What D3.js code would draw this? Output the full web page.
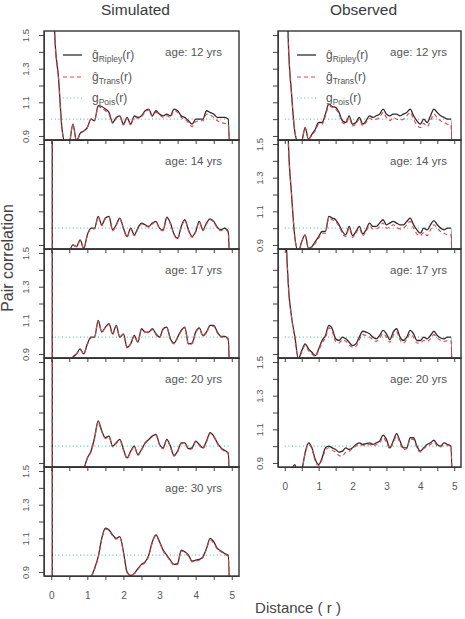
<!DOCTYPE html>
<html><head><meta charset="utf-8">
<script src="https://cdn.jsdelivr.net/npm/d3@7"></script>
<style>body{margin:0;background:#fff}svg{display:block}text{font-family:"Liberation Sans",Arial,sans-serif}</style>
</head><body>
<svg id="c" width="465" height="619"></svg>
<script>
// ---------- DATA ----------
const r = [0.01,0.03,0.1,0.2,0.3,0.4,0.5,0.6,0.7,0.8,0.9,1.0,
1.1,1.2,1.3,1.4,1.5,1.6,1.7,1.8,1.9,2.0,
2.1,2.2,2.3,2.4,2.5,2.6,2.7,2.8,2.9,3.0,
3.1,3.2,3.3,3.4,3.5,3.6,3.7,3.8,3.9,4.0,
4.1,4.2,4.3,4.4,4.5,4.6,4.7,4.8,4.9,5.0];

const simAges = [12, 14, 17, 20, 30];
const obsAges = [12, 14, 17, 20];
const yTicks = [0.9, 1.0, 1.1, 1.2, 1.3, 1.4, 1.5];
const yTickLabels = [0.9, 1.1, 1.3, 1.5];
const xTicks = [0, 0.5, 1, 1.5, 2, 2.5, 3, 3.5, 4, 4.5, 5];
const xTickLabels = [0, 1, 2, 3, 4, 5];
const poisR = [0, 4.95];
const poisG = [1, 1];
const legendLabels = [["Ripley", true], ["Trans", true], ["Pois", false]];

const sim12Ripley = [4,2.5,1.49,1.25,0.94,0.85,0.86,0.97,0.87,0.915,0.93,0.95,
1.0,0.99,1.08,1.075,1.06,1.04,0.98,1.01,1.02,0.97,
1.01,0.97,1.02,1.01,1.02,1.05,1.06,1.02,1.05,1.03,
1.02,1.03,1.02,1.06,1.05,1.02,1.01,0.99,0.97,1.0,
1.0,1.0,1.05,1.04,1.03,1.01,1.01,1.01,1.0,0];
const sim12Trans = [4,2.5,1.49,1.25,0.94,0.85,0.86,0.97,0.87,0.91,0.93,0.95,
1.0,0.99,1.075,1.065,1.05,1.03,0.975,1.005,1.015,0.965,
1.005,0.965,1.015,1.005,1.015,1.04,1.055,1.015,1.04,1.025,
1.01,1.02,1.01,1.05,1.04,1.01,1.0,0.98,0.955,0.985,
0.99,0.99,1.03,1.025,1.01,0.99,0.98,0.975,0.97,0];

const sim14Ripley = [30,0,0.5,0.6,0.7,0.75,0.85,0.9,0.89,0.93,0.88,0.96,
1.0,1.0,1.07,1.02,1.06,1.07,0.99,1.02,1.06,1.0,
0.95,1.0,0.96,1.0,1.03,1.02,1.01,1.03,1.04,1.0,
0.99,1.065,1.03,0.965,0.94,1.01,1.05,0.99,0.95,0.98,
1.04,0.99,1.03,1.055,1.04,1.005,0.99,1.0,0.98,0];
const sim14Trans = [30,0,0.5,0.6,0.7,0.75,0.85,0.9,0.89,0.925,0.88,0.955,
0.995,0.995,1.065,1.015,1.055,1.065,0.985,1.015,1.055,0.995,
0.945,0.995,0.955,0.995,1.025,1.015,1.005,1.025,1.035,0.995,
0.985,1.06,1.025,0.96,0.935,1.005,1.045,0.985,0.945,0.975,
1.035,0.985,1.025,1.05,1.035,1.0,0.985,0.995,0.975,0];

const sim17Ripley = [30,0,0.5,0.6,0.7,0.75,0.8,0.88,0.9,0.93,0.9,0.96,
1.0,1.0,1.1,1.03,1.06,1.08,1.02,1.07,1.0,1.02,
0.94,0.96,1.01,0.97,1.05,1.03,1.03,1.05,1.02,1.0,
1.05,1.06,0.99,0.965,1.0,1.04,1.06,0.96,0.965,1.03,
1.055,1.01,1.03,1.07,1.07,1.03,1.005,1.005,0.99,0];
const sim17Trans = [30,0,0.5,0.6,0.7,0.75,0.8,0.88,0.9,0.925,0.9,0.955,
0.995,1.0,1.095,1.03,1.055,1.075,1.015,1.065,1.0,1.015,
0.935,0.96,1.005,0.97,1.045,1.03,1.025,1.045,1.015,0.995,
1.045,1.055,0.985,0.96,0.995,1.035,1.055,0.955,0.96,1.025,
1.05,1.005,1.025,1.065,1.065,1.025,1.0,1.0,0.985,0];

const sim20Ripley = [30,0,0.5,0.6,0.65,0.7,0.72,0.75,0.78,0.8,0.86,0.93,
0.97,1.05,1.15,1.09,1.05,1.06,1.0,1.02,1.04,0.98,
0.93,0.97,1.0,0.95,0.98,1.02,1.04,1.06,1.07,1.01,
0.99,1.04,1.0,0.945,0.97,1.02,1.02,0.985,0.99,1.03,
1.01,0.99,1.03,1.08,1.06,1.02,0.99,0.975,0.96,0];
const sim20Trans = [30,0,0.5,0.6,0.65,0.7,0.72,0.75,0.78,0.8,0.86,0.925,
0.965,1.045,1.14,1.085,1.045,1.055,0.995,1.015,1.035,0.975,
0.925,0.965,0.995,0.945,0.975,1.015,1.035,1.055,1.065,1.005,
0.985,1.035,0.995,0.94,0.965,1.015,1.015,0.98,0.985,1.025,
1.005,0.985,1.025,1.075,1.055,1.015,0.985,0.97,0.955,0];

const sim30Ripley = [30,0,0.3,0.4,0.5,0.55,0.6,0.65,0.7,0.75,0.8,0.85,
0.87,0.92,0.99,1.1,1.16,1.15,1.12,1.1,1.11,1.02,
0.9,0.88,0.89,0.92,0.945,0.96,1.0,1.08,1.12,1.08,
1.03,1.0,0.97,0.945,0.95,1.03,1.02,1.0,0.965,0.97,
0.975,0.99,1.04,1.1,1.08,1.04,1.025,1.01,1.0,0];
const sim30Trans = [30,0,0.3,0.4,0.5,0.55,0.6,0.65,0.7,0.75,0.8,0.85,
0.87,0.915,0.985,1.095,1.155,1.145,1.115,1.095,1.105,1.015,
0.895,0.88,0.89,0.915,0.94,0.955,0.995,1.075,1.115,1.075,
1.025,0.995,0.965,0.94,0.945,1.025,1.015,0.995,0.96,0.965,
0.97,0.985,1.035,1.09,1.07,1.035,1.02,1.005,0.995,0];

const obs12Ripley = [4,2.5,1.49,1.15,0.92,0.86,0.87,0.95,0.88,0.91,0.94,0.98,
0.98,1.03,1.09,1.075,1.07,1.04,0.99,0.98,1.02,0.97,
0.98,1.01,0.97,0.99,1.02,1.01,1.02,1.03,1.06,1.03,
1.02,1.03,1.03,1.02,1.03,1.04,1.06,1.02,0.99,0.97,
1.0,0.98,1.02,1.06,1.04,1.02,1.01,1.0,1.0,0];
const obs12Trans = [4,2.5,1.49,1.15,0.92,0.86,0.87,0.95,0.88,0.905,0.93,0.97,
0.97,1.02,1.08,1.07,1.06,1.03,0.98,0.97,1.01,0.96,
0.97,1.0,0.96,0.98,1.005,0.995,1.0,1.01,1.04,1.01,
0.99,1.01,1.0,0.995,1.0,1.02,1.04,1.0,0.965,0.95,
0.975,0.955,0.99,1.03,1.01,0.99,0.98,0.97,0.965,0];

const obs14Ripley = [4,2.6,1.55,1.2,0.94,0.86,0.92,0.96,0.88,0.89,0.92,0.95,
0.98,0.98,1.07,1.06,1.05,1.02,0.98,0.96,1.01,0.955,
0.98,1.01,0.965,0.99,1.03,1.01,1.01,1.03,1.05,1.02,
1.03,1.04,1.03,1.02,1.02,1.04,1.06,1.02,0.99,0.97,
1.0,0.99,1.02,1.045,1.02,1.0,0.99,1.0,1.0,0];
const obs14Trans = [4,2.6,1.55,1.2,0.94,0.86,0.92,0.955,0.88,0.885,0.91,0.94,
0.97,0.97,1.06,1.05,1.04,1.01,0.97,0.95,1.0,0.945,
0.97,1.0,0.955,0.98,1.015,0.995,0.995,1.01,1.03,1.0,
1.005,1.02,1.005,0.995,1.0,1.02,1.04,1.0,0.965,0.955,
0.975,0.955,0.99,1.02,1.0,0.98,0.97,0.96,0.96,0];

const obs17Ripley = [4,1.7,1.33,1.12,1.0,0.87,0.92,0.96,0.93,0.91,0.89,0.93,
0.98,1.01,1.07,1.05,0.99,0.98,1.0,0.99,0.97,0.95,
0.96,1.0,1.035,1.03,1.02,1.0,0.99,1.01,1.04,1.02,
0.985,1.03,1.05,1.0,0.98,1.0,1.04,1.02,0.98,0.98,
1.0,0.99,1.01,1.035,1.01,0.995,0.99,1.0,1.0,0];
const obs17Trans = [4,1.7,1.33,1.12,0.99,0.87,0.91,0.95,0.92,0.9,0.885,0.92,
0.965,0.995,1.055,1.035,0.975,0.965,0.985,0.975,0.955,0.94,
0.945,0.985,1.015,1.01,1.0,0.985,0.975,0.995,1.02,1.0,
0.97,1.01,1.03,0.985,0.965,0.985,1.02,1.0,0.965,0.965,
0.98,0.975,0.99,1.015,0.995,0.98,0.975,0.98,0.98,0];

const obs20Ripley = [0,0,0.5,0.85,0.89,0.8,0.85,0.96,1.02,0.99,0.92,0.89,
0.93,0.99,1.0,0.99,0.98,0.965,0.97,0.99,0.98,0.99,
1.01,1.02,1.01,1.015,1.02,1.01,1.02,1.03,1.065,1.04,
0.99,1.03,1.075,1.03,0.99,0.99,1.05,1.05,1.0,0.97,
0.99,1.01,1.02,1.035,1.01,1.0,1.02,1.01,1.0,0];
const obs20Trans = [0,0,0.5,0.85,0.885,0.8,0.85,0.955,1.01,0.985,0.91,0.885,
0.92,0.975,0.99,0.975,0.965,0.945,0.94,0.965,0.97,0.985,
1.0,1.01,1.005,1.005,1.01,1.0,1.01,1.02,1.05,1.025,
0.985,1.02,1.06,1.02,0.98,0.985,1.04,1.04,0.99,0.965,
0.985,1.0,1.01,1.025,1.0,0.995,1.01,1.005,0.995,0];

const simRipley = [sim12Ripley, sim14Ripley, sim17Ripley, sim20Ripley, sim30Ripley];
const simTrans  = [sim12Trans, sim14Trans, sim17Trans, sim20Trans, sim30Trans];
const obsRipley = [obs12Ripley, obs14Ripley, obs17Ripley, obs20Ripley];
const obsTrans  = [obs12Trans, obs14Trans, obs17Trans, obs20Trans];

// ---------- LAYOUT ----------
const svg = d3.select("#c");
const panelTop0 = 31, panelH = 109;
const cols = [
  {x0: 44, x1: 239, title: "Simulated", ages: simAges, rip: simRipley, tr: simTrans, labeled: [0, 2, 4]},
  {x0: 278, x1: 461, title: "Observed", ages: obsAges, rip: obsRipley, tr: obsTrans, labeled: [1, 3]}
];
const axisCol = "#444", textCol = "#555";
const fmt = d3.format(".1f");

cols.forEach((c, ci) => {
  const x = d3.scaleLinear().domain([-0.2, 5.2]).range([c.x0, c.x1]);
  svg.append("text").attr("x", (c.x0 + c.x1) / 2 - 6).attr("y", 15)
    .attr("text-anchor", "middle").attr("font-size", 15.5).attr("fill", "#3a3a3a").text(c.title);

  c.ages.forEach((age, i) => {
    const top = panelTop0 + panelH * i, bot = top + panelH;
    const y = d3.scaleLinear().domain([0.876, 1.524]).range([bot, top]);
    const g = svg.append("g");
    const clipId = `clip${ci}_${i}`;
    svg.append("clipPath").attr("id", clipId).append("rect")
      .attr("x", c.x0).attr("y", top).attr("width", c.x1 - c.x0).attr("height", panelH);
    const plot = g.append("g").attr("clip-path", `url(#${clipId})`);

    const pts = (vals) => r.map((rv, k) => [rv, vals[k]]);
    const line = d3.line().x(d => x(d[0])).y(d => y(d[1])).curve(d3.curveMonotoneX);

    plot.append("path").attr("d", line(poisR.map((rv, k) => [rv, poisG[k]])))
      .attr("fill", "none").attr("stroke", "#5cc9a7").attr("stroke-width", 1.2)
      .attr("stroke-dasharray", "1,2.6");
    plot.append("path").attr("d", line(pts(c.rip[i])))
      .attr("fill", "none").attr("stroke", "#2d2d2d").attr("stroke-width", 1.3);
    plot.append("path").attr("d", line(pts(c.tr[i])))
      .attr("fill", "none").attr("stroke", "#e8414a").attr("stroke-width", 1.1)
      .attr("stroke-dasharray", "4,3");

    const labeled = c.labeled.includes(i);
    const ya = g.append("g").attr("transform", `translate(${c.x0},0)`)
      .call(d3.axisLeft(y).tickValues(yTicks).tickSize(5).tickSizeOuter(0)
        .tickFormat(d => labeled && yTickLabels.some(v => Math.abs(v - d) < 1e-9) ? fmt(d) : ""));
    ya.select(".domain").attr("stroke", axisCol);
    ya.selectAll(".tick line").attr("stroke", axisCol);
    ya.selectAll(".tick text").attr("transform", "rotate(-90)").attr("x", 0).attr("y", -15)
      .attr("dy", 0).attr("text-anchor", "middle").attr("fill", textCol)
      .attr("font-size", 9.5).attr("font-family", '"Liberation Sans",Arial,sans-serif');

    const last = i === c.ages.length - 1;
    const xa = g.append("g").attr("transform", `translate(0,${bot})`)
      .call(d3.axisBottom(x).tickValues(xTicks).tickSize(4).tickSizeOuter(0).tickPadding(12)
        .tickFormat(d => last && xTickLabels.includes(d) ? d : ""));
    xa.select(".domain").attr("stroke", axisCol);
    xa.selectAll(".tick line").attr("stroke", axisCol);
    xa.selectAll(".tick text").attr("fill", textCol).attr("font-size", 10)
      .attr("font-family", '"Liberation Sans",Arial,sans-serif');

    g.append("rect").attr("x", c.x0).attr("y", top).attr("width", c.x1 - c.x0).attr("height", panelH)
      .attr("fill", "none").attr("stroke", "#333").attr("stroke-width", 1.4);

    g.append("text").attr("x", c.x1 - (ci === 0 ? 17 : 14)).attr("y", top + 25)
      .attr("text-anchor", "end").attr("font-size", 11.5).attr("fill", textCol)
      .text(`age: ${age} yrs`);

    if (i === 0) {
      const ly = [top + 24, top + 46, top + 67];
      const styles = [
        {stroke: "#2d2d2d", dash: null, w: 1.3},
        {stroke: "#e8414a", dash: "4,3", w: 1.1},
        {stroke: "#5cc9a7", dash: "1,2.6", w: 1.2}
      ];
      legendLabels.forEach(([sub, hat], k) => {
        g.append("line").attr("x1", c.x0 + 19).attr("x2", c.x0 + 38)
          .attr("y1", ly[k]).attr("y2", ly[k])
          .attr("stroke", styles[k].stroke).attr("stroke-width", styles[k].w)
          .attr("stroke-dasharray", styles[k].dash);
        const t = g.append("text").attr("x", c.x0 + 48).attr("y", ly[k] + 4)
          .attr("font-size", 12).attr("fill", textCol);
        t.append("tspan").text(hat ? "ĝ" : "g");
        t.append("tspan").attr("font-size", 8.5).attr("dy", 3).text(sub);
        t.append("tspan").attr("dy", -3).text("(r)");
      });
    }
  });
});

svg.append("text").attr("transform", "translate(13,258) rotate(-90)")
  .attr("text-anchor", "middle").attr("font-size", 16).attr("fill", "#444").text("Pair correlation");
svg.append("text").attr("x", 298).attr("y", 613)
  .attr("text-anchor", "middle").attr("font-size", 15).attr("fill", "#444").text("Distance ( r )");
</script>
</body></html>
